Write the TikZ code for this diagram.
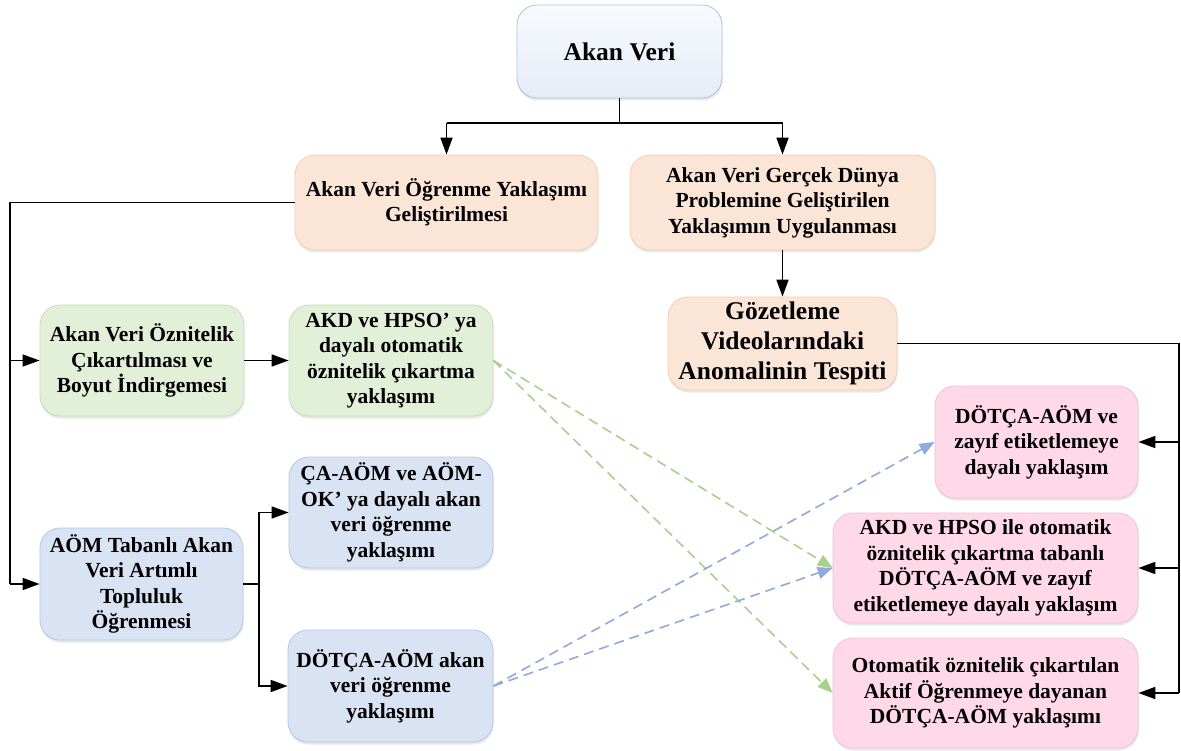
\documentclass[tikz,border=0pt]{standalone}
\usepackage{fontspec}
\setmainfont{Liberation Serif}
\usetikzlibrary{arrows.meta,shadows}
\definecolor{topfillA}{RGB}{248,250,254}
\definecolor{topfillB}{RGB}{230,236,247}
\definecolor{topdraw}{RGB}{175,196,226}
\definecolor{orafill}{RGB}{251,229,214}
\definecolor{oradraw}{RGB}{246,206,180}
\definecolor{grfill}{RGB}{226,240,217}
\definecolor{grdraw}{RGB}{197,224,180}
\definecolor{blfill}{RGB}{218,227,243}
\definecolor{bldraw}{RGB}{180,199,231}
\definecolor{pkfill}{RGB}{255,217,232}
\definecolor{pkdraw}{RGB}{246,190,212}
\definecolor{grdash}{RGB}{169,209,142}
\definecolor{bldash}{RGB}{143,170,220}
\tikzset{
  box/.style={rounded corners=20pt, line width=0.8pt, align=center, inner sep=0pt,
     font=\bfseries\fontsize{21.5}{25.5}\selectfont,
     drop shadow={shadow xshift=0.5pt, shadow yshift=-2.5pt, fill=black!35, opacity=0.25}},
  topbox/.style={box, top color=topfillA, bottom color=topfillB, draw=topdraw},
  orabox/.style={box, fill=orafill, draw=oradraw},
  grbox/.style={box, fill=grfill, draw=grdraw},
  blbox/.style={box, fill=blfill, draw=bldraw},
  pkbox/.style={box, fill=pkfill, draw=pkdraw},
  bigtext/.style={font=\bfseries\fontsize{25.5}{30}\selectfont},
  conn/.style={line width=1.7pt, black},
  arr/.style={conn, -{Triangle[length=17pt,width=12pt]}},
  gdash/.style={line width=1.6pt, grdash, dash pattern=on 10pt off 6pt, -{Triangle[length=15pt,width=12pt]}},
  bdash/.style={line width=1.6pt, bldash, dash pattern=on 10pt off 6pt, -{Triangle[length=15pt,width=12pt]}},
}
\begin{document}
\begin{tikzpicture}[x=1pt,y=-1pt]
\useasboundingbox (0,0) rectangle (1181,751);
\fill[white] (0,0) rectangle (1181,751);

\node[topbox, bigtext, minimum width=205pt, minimum height=93pt] (top) at (619.5,51.5) {Akan Veri};
\node[orabox, minimum width=303pt, minimum height=95pt] (ora1) at (446.5,202.5) {Akan Veri Öğrenme Yaklaşımı\\Geliştirilmesi};
\node[orabox, minimum width=305pt, minimum height=95pt] (ora2) at (782.5,202.5) {Akan Veri Gerçek Dünya\\Problemine Geliştirilen\\Yaklaşımın Uygulanması};
\node[orabox, bigtext, minimum width=229pt, minimum height=93pt] (goz) at (782.5,343.5) {Gözetleme\\Videolarındaki\\Anomalinin Tespiti};

\node[grbox, minimum width=204pt, minimum height=111pt] (gr1) at (142,360.5) {Akan Veri Öznitelik\\Çıkartılması ve\\Boyut İndirgemesi};
\node[grbox, minimum width=204pt, minimum height=111pt] (gr2) at (391,360.5) {AKD ve HPSO’ ya\\dayalı otomatik\\öznitelik çıkartma\\yaklaşımı};

\node[blbox, minimum width=203pt, minimum height=112pt] (bl1) at (141.5,584) {AÖM Tabanlı Akan\\Veri Artımlı\\Topluluk\\Öğrenmesi};
\node[blbox, minimum width=204pt, minimum height=111pt] (bl2) at (391,512.5) {ÇA-AÖM ve AÖM-\\OK’ ya dayalı akan\\veri öğrenme\\yaklaşımı};
\node[blbox, minimum width=205pt, minimum height=112pt] (bl3) at (390.5,686) {DÖTÇA-AÖM akan\\veri öğrenme\\yaklaşımı};

\node[pkbox, minimum width=203pt, minimum height=112pt] (pk1) at (1036.5,442) {DÖTÇA-AÖM ve\\zayıf etiketlemeye\\dayalı yaklaşım};
\node[pkbox, minimum width=305pt, minimum height=110pt] (pk2) at (985.5,568) {AKD ve HPSO ile otomatik\\öznitelik çıkartma tabanlı\\DÖTÇA-AÖM ve zayıf\\etiketlemeye dayalı yaklaşım};
\node[pkbox, minimum width=305pt, minimum height=110pt] (pk3) at (985.5,693) {Otomatik öznitelik çıkartılan\\Aktif Öğrenmeye dayanan\\DÖTÇA-AÖM yaklaşımı};

% top split
\coordinate (T) at (619.5,123);
\coordinate (TL) at (446.5,123);
\coordinate (TR) at (782.5,123);
\draw[conn] (top.south) -- (T);
\draw[conn] (TL) -- (TR);
\draw[arr] (TL) -- (ora1.north);
\draw[arr] (TR) -- (ora2.north);
\draw[arr] (ora2.south) -- (goz.north);

% left trunk
\coordinate (L1) at (10,202.5);
\coordinate (L2) at (10,360.5);
\coordinate (L3) at (10,584);
\draw[conn] (ora1.west) -- (L1) -- (L3);
\draw[arr] (L2) -- (gr1.west);
\draw[arr] (L3) -- (bl1.west);
\draw[arr] (gr1.east) -- (gr2.west);

% blue branch
\coordinate (B0) at (259,584);
\draw[conn] (bl1.east) -- (B0);
\draw[arr] (B0) |- (bl2.west);
\draw[arr] (B0) |- (bl3.west);

% right trunk
\coordinate (R1) at (1179,343.5);
\coordinate (RA) at (1179,442);
\coordinate (RB) at (1179,568);
\coordinate (RC) at (1179,693);
\draw[conn] (goz.east) -- (R1) -- (RC);
\draw[arr] (RA) -- (pk1.east);
\draw[arr] (RB) -- (pk2.east);
\draw[arr] (RC) -- (pk3.east);

% dashed links
\draw[gdash] (gr2.east) -- (pk2.west);
\draw[gdash] (gr2.east) -- (pk3.west);
\draw[bdash] (bl3.east) -- (pk2.west);
\draw[bdash] (bl3.east) -- (pk1.west);
\end{tikzpicture}
\end{document}
